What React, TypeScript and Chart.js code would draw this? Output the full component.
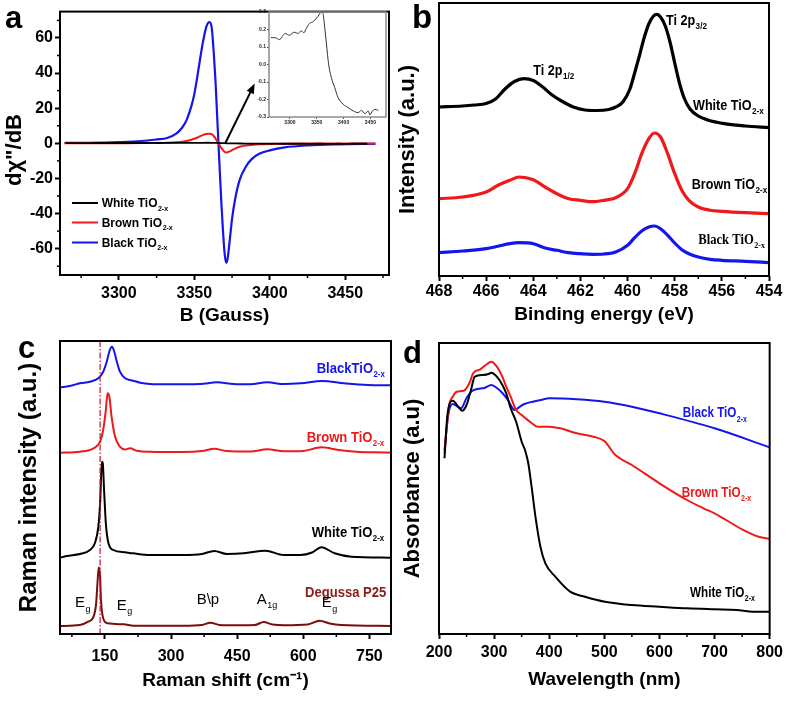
import React, { useEffect, useRef } from 'react';
import { Chart, registerables } from 'chart.js';
Chart.register(...registerables);

const FONT = "'Liberation Sans', Arial, Helvetica, sans-serif";
const SERIF = "'Liberation Serif', 'Times New Roman', serif";

const BLUE = '#1414ee';
const RED = '#f01818';
const BLACK = '#000000';
const MAROON = '#7a0c0c';

// ---------- Panel a : EPR ----------
const eprField = [3264, 3280, 3300, 3315, 3325, 3332, 3338, 3342, 3345, 3348, 3350, 3352, 3354, 3356, 3358, 3360, 3361.5, 3363, 3364, 3365, 3366, 3367, 3368, 3369, 3370, 3371, 3372, 3373.5, 3375, 3377, 3380, 3384, 3388, 3393, 3400, 3410, 3425, 3445, 3470];
const eprBlackTiO2 = [0.2, 0.3, 0.7, 1.3, 2.2, 3.0, 5.5, 9, 13.5, 21, 28, 38, 49, 59, 66.5, 69, 66, 50, 36, 18, 0, -18, -35, -50, -62, -68, -66, -55, -43, -32, -21, -13.5, -9, -6, -4, -2.3, -1.2, -0.6, -0.3];
const eprBrownTiO2 = [0, 0, 0.05, 0.1, 0.2, 0.35, 0.6, 0.9, 1.3, 2, 2.6, 3.3, 4.1, 4.8, 5.3, 5.5, 5.2, 4, 2.8, 1.4, 0, -1.4, -2.7, -3.9, -4.8, -5.2, -5.1, -4.6, -3.9, -3.0, -2.0, -1.3, -0.9, -0.6, -0.4, -0.25, -0.15, -0.08, -0.05];
const eprWhiteField = [3264.7, 3274, 3280.3, 3291, 3299, 3308.4, 3314.6, 3321, 3326, 3330.4, 3336.6, 3342.8, 3349, 3354, 3358.5, 3361.5, 3364.7, 3368, 3372, 3377, 3383.4, 3389.6, 3399, 3408.4, 3417.8, 3427, 3433.5, 3439.7, 3446, 3449, 3454, 3458.4, 3464.6];
const eprWhiteTiO2 = [0.154, 0.152, 0.142, 0.177, 0.167, 0.185, 0.177, 0.192, 0.181, 0.206, 0.235, 0.244, 0.263, 0.283, 0.3, 0.292, 0.215, 0.119, 0.004, -0.073, -0.131, -0.188, -0.227, -0.246, -0.265, -0.275, -0.262, -0.281, -0.265, -0.288, -0.265, -0.256, -0.262];
const eprMinorX = [3275, 3325, 3375, 3425, 3475];
const eprMinorY = [-70, -50, -30, -10, 10, 30, 50, 70];
const arrowFrom = [3370.5, 0];
const arrowTo = [3390, 34];

// ---------- Panel b : XPS ----------
const xpsWhiteE = [468, 467, 466.5, 466, 465.6, 465.2, 464.8, 464.4, 464, 463.6, 463.2, 462.8, 462.3, 461.8, 461.3, 460.8, 460.5, 460.2, 459.9, 459.7, 459.5, 459.3, 459.1, 458.9, 458.76, 458.6, 458.4, 458.2, 458, 457.8, 457.6, 457.35, 457, 456.6, 455.9, 455, 454];
const xpsWhite = [169, 170, 171, 172.5, 177, 187, 194.5, 197.3, 195.5, 189, 181, 175, 169, 166, 165.5, 166.5, 169, 174, 187, 203, 220, 238, 252, 260, 261.7, 259, 250, 234, 213, 193, 178, 167, 160, 156, 152.3, 150, 148.3];
const xpsE = [468, 467, 466, 465.5, 465, 464.6, 464, 463.5, 463, 462.5, 462, 461.5, 461, 460.5, 460, 459.7, 459.4, 459.1, 458.86, 458.6, 458.3, 458, 457.7, 457.4, 457, 456.5, 456, 455, 454];
const xpsBrown = [77.3, 79, 84, 90.7, 95.7, 99, 96.3, 89, 82.3, 77.3, 75.7, 74.3, 75.7, 78.3, 87.3, 102.3, 122.3, 137.3, 143, 139, 122.3, 102.3, 85.7, 75.7, 69, 65.7, 64.7, 63.3, 62.3];
const xpsBlack = [23.3, 25, 27.3, 29.7, 32.3, 33.3, 32.3, 28, 25.7, 23.3, 22.3, 21.7, 22, 24, 30.7, 38.3, 45, 49, 50, 47.3, 40.7, 33, 26.3, 22.3, 19, 16.7, 15.7, 14.7, 13.3];
const xpsMinorX = [467, 465, 463, 461, 459, 457, 455];

// ---------- Panel c : Raman ----------
const ramanBlackX = [48, 70, 93, 116, 135, 146, 154, 161, 166, 170, 177, 184, 196, 214, 230, 252, 290, 366, 404, 442, 480, 518, 556, 594, 643, 693, 746, 799];
const ramanBlack = [246.7, 248, 250.7, 252.3, 255.7, 262.3, 272.3, 284, 287.3, 284, 272.3, 262.3, 255.7, 253.3, 251.3, 250, 249.7, 250, 251.7, 250, 249.7, 251.7, 250, 250.7, 253, 250.7, 249, 248.7];
const ramanBrownX = [48, 93, 124, 139, 146, 152, 156, 160, 165, 173, 184, 195, 207, 222, 252, 328, 370, 398, 425, 480, 518, 556, 600, 641, 680, 720, 760, 799];
const ramanBrown = [181.3, 182.3, 185.7, 192.3, 204, 224, 240.7, 237.3, 217.3, 197.3, 187.3, 184.5, 185.7, 183.3, 182.3, 182, 183, 185.3, 183, 182.5, 184.7, 182.7, 183, 186.7, 184, 182.3, 181.7, 181.3];
const ramanWhiteX = [48, 63, 93, 116, 127, 135, 139, 143, 145, 148, 152, 158, 169, 196, 214, 252, 328, 370, 398, 427, 465, 514, 556, 594, 620, 641, 671, 709, 799];
const ramanWhite = [76.3, 78, 80, 84, 90.7, 107.3, 130.7, 172.3, 170.7, 144, 110.7, 90.7, 84, 81.7, 80.7, 79, 79, 80, 83, 80, 80.7, 83.3, 79, 79, 81.5, 86.7, 80.7, 77.3, 76.3];
const ramanP25X = [48, 93, 112, 124, 130, 133, 136, 139, 141, 146, 156, 193, 214, 328, 370, 389, 410, 427, 490, 510, 530, 556, 610, 637, 660, 686, 799];
const ramanP25 = [8, 9, 12.3, 17.3, 30.7, 50.7, 66.7, 57.3, 34, 15.7, 10.7, 9.7, 8.3, 8.3, 9, 11.3, 9, 8.7, 9, 12, 9.5, 8.7, 9.5, 13.3, 10.5, 9, 8];
const ramanRefShift = 139;
const ramanTicks = [150, 300, 450, 600, 750];
const ramanMinorX = [75, 225, 375, 525, 675];

// ---------- Panel d : UV-vis ----------
const uvWhiteX = [210, 215, 225, 235, 242, 250, 258, 265, 280, 290, 295, 305, 315, 322, 330, 340, 350, 356, 362, 368, 375, 384, 393, 411, 438, 465, 501, 550, 600, 650, 700, 740, 770, 800];
const uvWhite = [175.7, 217.3, 233.3, 227.3, 223.3, 229, 244, 257.3, 259, 260, 261.3, 257.3, 249, 240.7, 225.7, 212.3, 192.3, 184, 170.7, 147.3, 117.3, 87.3, 70.7, 57.3, 42.3, 37.3, 32.3, 29, 27.3, 25.7, 24.7, 24, 22.3, 22.3];
const uvBrownX = [210, 218, 225, 232, 245, 255, 262, 275, 285, 295, 305, 315, 322, 330, 340, 350, 365, 380, 400, 420, 450, 480, 500, 520, 550, 600, 650, 680, 700, 750, 780, 800];
const uvBrown = [180.7, 227.3, 237.3, 242.3, 243.3, 250.7, 260.7, 264.7, 269, 272.3, 267.3, 257.3, 247.3, 237.3, 224, 219, 212.3, 207.3, 207.3, 205.7, 200.7, 197.3, 193, 179, 169, 150.7, 134, 125.7, 120.7, 104.7, 97.3, 95];
const uvBlackX = [210, 217, 225, 232, 240, 250, 260, 270, 282, 295, 305, 315, 325, 337, 345, 355, 370, 385, 400, 450, 500, 550, 600, 700, 800];
const uvBlack = [184, 220, 230, 228, 225.7, 236, 243, 245, 246, 249, 246, 241, 234, 224, 226.7, 230, 232.3, 234, 235.7, 234.7, 232.3, 227.3, 220.7, 205.7, 186.7];
const uvMinorX = [250, 350, 450, 550, 650, 750];

// ---------- helpers ----------
const pts = (xs: number[], ys: number[]) => xs.map((x, i) => ({ x, y: ys[i] }));

type Lbl = { x: number; y: number; text: string; sub?: string; size: number; color?: string; weight?: string; family?: string; k?: number; rot?: number };

function drawLabel(ctx: CanvasRenderingContext2D, l: Lbl) {
  ctx.save();
  ctx.translate(l.x, l.y);
  if (l.rot) ctx.rotate(l.rot);
  ctx.scale(l.k ?? 1, 1);
  ctx.fillStyle = l.color ?? '#000';
  ctx.textBaseline = 'alphabetic';
  ctx.textAlign = 'left';
  const fam = l.family ?? FONT;
  const w = l.weight ?? 'bold';
  ctx.font = `${w} ${l.size}px ${fam}`;
  if (l.rot) {
    // centred rotated title
    ctx.textAlign = 'center';
    ctx.textBaseline = 'middle';
  }
  ctx.fillText(l.text, 0, 0);
  if (l.sub) {
    const tw = ctx.measureText(l.text).width;
    ctx.font = `${w} ${Math.round(l.size * 0.62)}px ${fam}`;
    ctx.fillText(l.sub, tw + 0.5, l.size * 0.28);
  }
  ctx.restore();
}

function decor(o: { minorX?: number[]; minorY?: number[]; labels?: Lbl[]; frameColor?: string; frameWidth?: number; extra?: (c: any) => void }) {
  return {
    id: 'decor',
    afterDatasetsDraw(chart: any) {
      const { ctx, chartArea: ca, scales } = chart;
      ctx.save();
      if (o.extra) o.extra(chart);
      ctx.strokeStyle = o.frameColor ?? '#000';
      ctx.lineWidth = o.frameWidth ?? 2;
      ctx.setLineDash([]);
      ctx.strokeRect(ca.left, ca.top, ca.right - ca.left, ca.bottom - ca.top);
      ctx.strokeStyle = '#000';
      ctx.lineWidth = 1.5;
      for (const v of o.minorX ?? []) {
        const px = scales.x.getPixelForValue(v);
        ctx.beginPath();
        ctx.moveTo(px, ca.bottom);
        ctx.lineTo(px, ca.bottom + 3);
        ctx.stroke();
      }
      for (const v of o.minorY ?? []) {
        const py = scales.y.getPixelForValue(v);
        ctx.beginPath();
        ctx.moveTo(ca.left, py);
        ctx.lineTo(ca.left - 3, py);
        ctx.stroke();
      }
      for (const l of o.labels ?? []) drawLabel(ctx, l);
      ctx.restore();
    },
  };
}

function xAxis(o: { min: number; max: number; step: number; reverse?: boolean; title: string; titlePad: number; tickPad: number; height: number; ticks?: number[] }) {
  return {
    type: 'linear', position: 'bottom', min: o.min, max: o.max, reverse: !!o.reverse,
    ticks: { stepSize: o.step, includeBounds: false, autoSkip: false, maxRotation: 0, color: '#000', padding: o.tickPad,
      font: { family: FONT, size: 16, weight: 'bold' }, callback: (v: any) => String(v) },
    grid: { drawOnChartArea: false, drawTicks: true, tickLength: 5, tickWidth: 2, color: '#000' },
    border: { display: false },
    title: { display: true, text: o.title, color: '#000', font: { family: FONT, size: 19, weight: 'bold' }, padding: { top: 0, bottom: o.titlePad } },
    afterBuildTicks: o.ticks ? (s: any) => { s.ticks = o.ticks!.map(v => ({ value: v })); } : undefined,
    afterFit: (s: any) => { s.height = o.height; },
  };
}

function yAxisPlain(o: { min: number; max: number; title: string; size: number; titlePad: number; width: number }) {
  return {
    type: 'linear', position: 'left', min: o.min, max: o.max,
    ticks: { display: false },
    grid: { display: false },
    border: { display: false },
    title: { display: true, text: o.title, color: '#000', font: { family: FONT, size: o.size, weight: 'bold' }, padding: { top: o.titlePad, bottom: 0 } },
    afterFit: (s: any) => { s.width = o.width; },
  };
}

function line(data: any[], color: string, width: number) {
  return { data, borderColor: color, backgroundColor: color, borderWidth: width, pointRadius: 0, fill: false, tension: 0.35, cubicInterpolationMode: 'monotone' };
}

const baseOpts = (padding: any) => ({
  responsive: false, animation: false, events: [],
  layout: { padding, autoPadding: false },
  plugins: { legend: { display: false }, tooltip: { enabled: false }, title: { display: false } },
});

export default function App() {
  const refA = useRef<HTMLCanvasElement>(null);
  const refI = useRef<HTMLCanvasElement>(null);
  const refB = useRef<HTMLCanvasElement>(null);
  const refC = useRef<HTMLCanvasElement>(null);
  const refD = useRef<HTMLCanvasElement>(null);

  useEffect(() => {
    const charts: Chart[] = [];

    // ---- a ----
    const legendRows = [
      { text: 'White TiO', color: BLACK, y: 203 },
      { text: 'Brown TiO', color: RED, y: 222.5 },
      { text: 'Black TiO', color: BLUE, y: 242.5 },
    ];
    charts.push(new Chart(refA.current!, {
      type: 'line',
      data: { datasets: [
        line(pts(eprWhiteField, eprWhiteTiO2), BLACK, 1.8),
        line(pts(eprField, eprBrownTiO2), RED, 2),
        line(pts(eprField, eprBlackTiO2), BLUE, 2.2),
      ] as any },
      options: {
        ...baseOpts({ left: 0, top: 3, right: 4, bottom: 0 }),
        scales: {
          x: xAxis({ min: 3261, max: 3479, step: 50, title: 'B (Gauss)', titlePad: 3, tickPad: 4, height: 55 }),
          y: {
            type: 'linear', position: 'left', min: -75, max: 75,
            ticks: { stepSize: 20, includeBounds: false, color: '#000', padding: 2, font: { family: FONT, size: 16, weight: 'bold' }, callback: (v: any) => String(v) },
            grid: { drawOnChartArea: false, drawTicks: true, tickLength: 5, tickWidth: 2, color: '#000' },
            border: { display: false },
            title: { display: false },
            afterFit: (s: any) => { s.width = 60; },
          },
        },
      } as any,
      plugins: [decor({
        minorX: eprMinorX, minorY: eprMinorY,
        labels: [
          { x: 5, y: 28, text: 'a', size: 31 },
          { x: 15, y: 150, text: 'd\u03c7"/dB', size: 22, rot: -Math.PI / 2 },
          ...legendRows.map(r => ({ x: 101.7, y: r.y + 4.3, text: r.text, sub: '2-x', size: 12 })),
        ],
        extra: (chart: any) => {
          const { ctx, scales } = chart;
          for (const r of legendRows) {
            ctx.strokeStyle = r.color; ctx.lineWidth = 2;
            ctx.beginPath(); ctx.moveTo(72, r.y); ctx.lineTo(98, r.y); ctx.stroke();
          }
          const x0 = scales.x.getPixelForValue(arrowFrom[0]), y0 = scales.y.getPixelForValue(arrowFrom[1]);
          const x1 = scales.x.getPixelForValue(arrowTo[0]), y1 = scales.y.getPixelForValue(arrowTo[1]);
          const a = Math.atan2(y1 - y0, x1 - x0);
          const c = Math.cos(a), s = Math.sin(a);
          ctx.strokeStyle = '#000'; ctx.fillStyle = '#000'; ctx.lineWidth = 2;
          ctx.beginPath(); ctx.moveTo(x0, y0); ctx.lineTo(x1 - 7 * c, y1 - 7 * s); ctx.stroke();
          ctx.beginPath(); ctx.moveTo(x1, y1);
          ctx.lineTo(x1 - 10 * c + 4 * s, y1 - 10 * s - 4 * c);
          ctx.lineTo(x1 - 10 * c - 4 * s, y1 - 10 * s + 4 * c);
          ctx.closePath(); ctx.fill();
        },
      })],
    }));

    // ---- inset ----
    charts.push(new Chart(refI.current!, {
      type: 'line',
      data: { datasets: [{ ...line(pts(eprWhiteField, eprWhiteTiO2), '#333', 1), tension: 0 }] as any },
      options: {
        ...baseOpts({ left: 0, top: 8, right: 4, bottom: 0 }),
        scales: {
          x: {
            type: 'linear', min: 3261, max: 3479,
            ticks: { stepSize: 50, includeBounds: false, maxRotation: 0, color: '#222', padding: 1, font: { family: FONT, size: 5, weight: 'bold' }, callback: (v: any) => String(v) },
            grid: { drawOnChartArea: false, tickLength: 2, tickWidth: 1, color: '#555' },
            border: { display: false },
            afterFit: (s: any) => { s.height = 11; },
          },
          y: {
            type: 'linear', min: -0.3, max: 0.3,
            ticks: { stepSize: 0.1, includeBounds: false, color: '#222', padding: 1, font: { family: FONT, size: 5, weight: 'bold' }, callback: (v: any) => Number(v).toFixed(1) },
            grid: { drawOnChartArea: false, tickLength: 2, tickWidth: 1, color: '#555' },
            border: { display: false },
            afterFit: (s: any) => { s.width = 31; },
          },
        },
      } as any,
      plugins: [decor({ frameColor: '#8c8c8c', frameWidth: 1.5 })],
    }));

    // ---- b ----
    const kb = 0.9;
    charts.push(new Chart(refB.current!, {
      type: 'line',
      data: { datasets: [
        line(pts(xpsWhiteE, xpsWhite), BLACK, 3.2),
        line(pts(xpsE, xpsBrown), RED, 3.2),
        line(pts(xpsE, xpsBlack), BLUE, 3.2),
      ] as any },
      options: {
        ...baseOpts({ left: 0, top: 3, right: 18, bottom: 0 }),
        scales: {
          x: xAxis({ min: 454, max: 468, step: 2, reverse: true, title: 'Binding energy (eV)', titlePad: 4, tickPad: 1, height: 54 }),
          y: yAxisPlain({ min: 0, max: 273, title: 'Intensity (a.u.)', size: 22, titlePad: 2, width: 46 }),
        },
      } as any,
      plugins: [decor({
        minorX: xpsMinorX,
        labels: [
          { x: 19, y: 28, text: 'b', size: 33 },
          { x: 140.3, y: 75, text: 'Ti 2p', sub: '1/2', size: 14, k: kb },
          { x: 273, y: 25, text: 'Ti 2p', sub: '3/2', size: 14, k: kb },
          { x: 300, y: 110, text: 'White TiO', sub: '2-x', size: 14, k: kb },
          { x: 298.7, y: 189, text: 'Brown TiO', sub: '2-x', size: 14, k: kb },
          { x: 305.3, y: 244, text: 'Black TiO', sub: '2-x', size: 14, k: kb, family: SERIF },
        ],
      })],
    }));

    // ---- c ----
    const kc = 0.87;
    charts.push(new Chart(refC.current!, {
      type: 'line',
      data: { datasets: [
        line(pts(ramanBlackX, ramanBlack), BLUE, 2),
        line(pts(ramanBrownX, ramanBrown), RED, 2),
        line(pts(ramanWhiteX, ramanWhite), BLACK, 2),
        line(pts(ramanP25X, ramanP25), MAROON, 2),
      ] as any },
      options: {
        ...baseOpts({ left: 0, top: 11, right: 2, bottom: 0 }),
        scales: {
          x: xAxis({ min: 48, max: 799, step: 150, title: 'Raman shift (cm\u207B\u00B9)', titlePad: 9, tickPad: 8, height: 67, ticks: ramanTicks }),
          y: yAxisPlain({ min: 0, max: 293, title: 'Raman intensity (a.u.)', size: 24, titlePad: 15, width: 60 }),
        },
      } as any,
      plugins: [decor({
        minorX: ramanMinorX,
        labels: [
          { x: 18, y: 28, text: 'c', size: 31 },
          { x: 316.7, y: 43, text: 'BlackTiO', sub: '2-x', size: 15, k: kc, color: BLUE },
          { x: 306.7, y: 111.7, text: 'Brown TiO', sub: '2-x', size: 15, k: kc, color: RED },
          { x: 311.7, y: 206.7, text: 'White TiO', sub: '2-x', size: 15, k: kc, color: BLACK },
          { x: 305, y: 266.7, text: 'Degussa P25', size: 15, k: kc, color: '#8b1a1a' },
          { x: 75, y: 277.3, text: 'E', sub: 'g', size: 15, weight: 'normal' },
          { x: 116.7, y: 280, text: 'E', sub: 'g', size: 15, weight: 'normal' },
          { x: 196.7, y: 274, text: 'B\\p', size: 15, weight: 'normal' },
          { x: 256.7, y: 274, text: 'A', sub: '1g', size: 15, weight: 'normal' },
          { x: 321.7, y: 277.3, text: 'E', sub: 'g', size: 15, weight: 'normal' },
        ],
        extra: (chart: any) => {
          const { ctx, chartArea: ca, scales } = chart;
          const px = scales.x.getPixelForValue(ramanRefShift);
          ctx.strokeStyle = '#c0142a'; ctx.lineWidth = 1.2;
          ctx.setLineDash([6, 2, 1.5, 2]);
          ctx.beginPath(); ctx.moveTo(px, ca.top); ctx.lineTo(px, ca.bottom); ctx.stroke();
          ctx.setLineDash([]);
        },
      })],
    }));

    // ---- d ----
    const kd = 0.78;
    charts.push(new Chart(refD.current!, {
      type: 'line',
      data: { datasets: [
        line(pts(uvWhiteX, uvWhite), BLACK, 2),
        line(pts(uvBrownX, uvBrown), RED, 2),
        line(pts(uvBlackX, uvBlack), BLUE, 2),
      ] as any },
      options: {
        ...baseOpts({ left: 0, top: 13, right: 15, bottom: 0 }),
        scales: {
          x: xAxis({ min: 200, max: 800, step: 100, title: 'Wavelength (nm)', titlePad: 10, tickPad: 4, height: 67 }),
          y: yAxisPlain({ min: 0, max: 291, title: 'Absorbance (a.u)', size: 22, titlePad: 7, width: 46 }),
        },
      } as any,
      plugins: [decor({
        minorX: uvMinorX,
        labels: [
          { x: 10, y: 33, text: 'd', size: 31 },
          { x: 289.7, y: 87.3, text: 'Black TiO', sub: '2-x', size: 15, k: kd, color: BLUE },
          { x: 288.7, y: 166.7, text: 'Brown TiO', sub: '2-x', size: 15, k: kd, color: RED },
          { x: 297, y: 266.7, text: 'White TiO', sub: '2-x', size: 15, k: kd, color: BLACK },
        ],
      })],
    }));

    return () => charts.forEach(c => c.destroy());
  }, []);

  const pos = (l: number, t: number, w: number, h: number): React.CSSProperties => ({ position: 'absolute', left: l, top: t, width: w, height: h });

  return (
    <div style={{ position: 'absolute', left: 0, top: 0, width: 787, height: 701, background: '#fff', overflow: 'hidden' }}>
      <canvas ref={refA} width={393} height={330} style={pos(0, 0, 393, 330)} />
      <canvas ref={refI} width={152} height={124} style={pos(238, 4, 152, 124)} />
      <canvas ref={refB} width={394} height={330} style={pos(393, 0, 394, 330)} />
      <canvas ref={refC} width={393} height={371} style={pos(0, 330, 393, 371)} />
      <canvas ref={refD} width={394} height={371} style={pos(393, 330, 394, 371)} />
    </div>
  );
}
